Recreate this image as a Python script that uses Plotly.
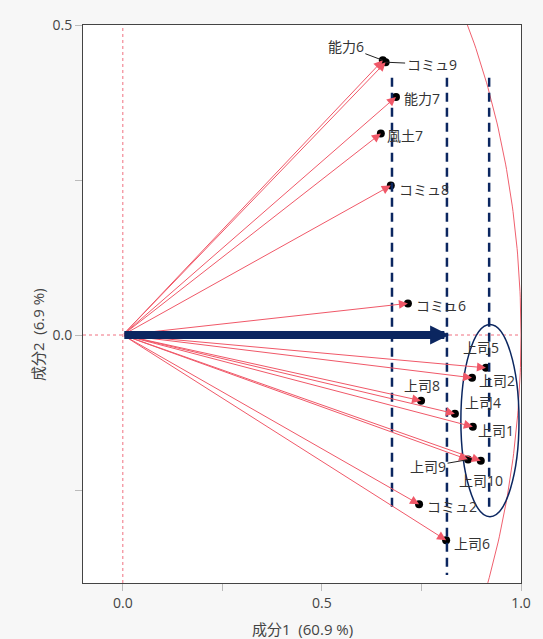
import numpy as np
import plotly.graph_objects as go

# ---- data ----
names = ["能力6", "コミュ9", "能力7", "風土7", "コミュ8", "コミュ6", "上司5", "上司2",
         "上司8", "上司4", "上司1", "上司9", "上司10", "コミュ2", "上司6"]
comp1 = [0.653, 0.660, 0.686, 0.648, 0.673, 0.716, 0.912, 0.877,
         0.749, 0.834, 0.879, 0.867, 0.899, 0.744, 0.812]
comp2 = [0.443, 0.440, 0.384, 0.325, 0.241, 0.051, -0.053, -0.069,
         -0.106, -0.127, -0.148, -0.201, -0.203, -0.273, -0.331]

# guide lines (dashed verticals): x, y_top, y_bottom
guide_x = [0.676, 0.814, 0.920]
guide_top = [0.415, 0.415, 0.415]
guide_bottom = [-0.278, -0.387, -0.283]
main_arrow_x = 0.82
ellipse_center = (0.922, -0.138)
ellipse_radius = (0.073, 0.155)

x_title = "成分1  (60.9 %)"
y_title = "成分2  (6.9 %)"

# ---- label placement (pixels) ----
# name: (xanchor, xshift, yshift)
label_pos = {
    "能力7": ("left", 6, -2), "風土7": ("left", 4, -2), "コミュ8": ("left", 6, -4),
    "コミュ6": ("left", 6, -2), "上司5": ("center", -5, 20), "上司2": ("left", 5, -3),
    "上司8": ("center", 1, 15), "上司4": ("left", 8, 11), "上司1": ("left", 3, -4),
    "上司10": ("center", 0, -20), "コミュ2": ("left", 6, -2), "上司6": ("left", 6, -3),
}
# labels with leader lines: name -> (ax, ay) pixel offset of label centre
leader_pos = {"能力6": (-37, -14), "コミュ9": (46, 2), "上司9": (-40, 7)}

FONT = "Open Sans, Noto Sans CJK JP, sans-serif"
LINE_RED = "#f05868"
NAVY = "#0b2660"

fig = go.Figure()

# unit circle
th = np.linspace(0, 2 * np.pi, 721)
fig.add_trace(go.Scatter(x=np.cos(th), y=np.sin(th), mode="lines",
                         line=dict(color="#f0606e", width=1), hoverinfo="skip",
                         showlegend=False))

# points
fig.add_trace(go.Scatter(x=comp1, y=comp2, mode="markers",
                         marker=dict(color="black", size=8),
                         showlegend=False, hovertext=names))

shapes = []
# zero lines
shapes.append(dict(type="line", xref="x", yref="paper", x0=0, x1=0, y0=0, y1=1,
                   line=dict(color="#f07080", width=1, dash="dot"), layer="below"))
shapes.append(dict(type="line", xref="paper", yref="y", x0=0, x1=1, y0=0, y1=0,
                   line=dict(color="#f07080", width=1, dash="dot"), layer="below"))
for gx, gt, gb in zip(guide_x, guide_top, guide_bottom):
    shapes.append(dict(type="line", x0=gx, x1=gx, y0=gt, y1=gb,
                       line=dict(color=NAVY, width=2.5, dash="9px,6px")))
cx, cy = ellipse_center
rx, ry = ellipse_radius
shapes.append(dict(type="circle", x0=cx - rx, x1=cx + rx, y0=cy - ry, y1=cy + ry,
                   line=dict(color=NAVY, width=1.5)))

annotations = []
# loading arrows
for n, x, y in zip(names, comp1, comp2):
    annotations.append(dict(x=x, y=y, ax=0, ay=0, axref="x", ayref="y", xref="x", yref="y",
                            text="", showarrow=True, arrowhead=2, arrowsize=1.8,
                            arrowwidth=1, arrowcolor=LINE_RED))
# main navy arrow
annotations.append(dict(x=main_arrow_x, y=0, ax=0, ay=0, axref="x", ayref="y",
                        text="", showarrow=True, arrowhead=2, arrowsize=0.48,
                        arrowwidth=8, arrowcolor=NAVY))
# labels
LFONT = dict(family=FONT, size=14, color="#333333")
for n, x, y in zip(names, comp1, comp2):
    if n in label_pos:
        xa, xs, ys = label_pos[n]
        annotations.append(dict(x=x, y=y, text=n, showarrow=False, xanchor=xa,
                                yanchor="middle", xshift=xs, yshift=ys, font=LFONT))
    elif n in leader_pos:
        ax, ay = leader_pos[n]
        annotations.append(dict(x=x, y=y, text=n, showarrow=True, arrowhead=0,
                                arrowwidth=1, arrowcolor="#222222", ax=ax, ay=ay,
                                font=LFONT))

# axis titles
annotations.append(dict(xref="paper", yref="paper", x=0.5, y=0, yshift=-46,
                        text=x_title, showarrow=False, xanchor="center", yanchor="middle",
                        font=dict(family=FONT, size=15, color="#444444")))
annotations.append(dict(xref="paper", yref="y", x=0, y=0, xshift=-45,
                        text=y_title, showarrow=False, textangle=-90,
                        xanchor="center", yanchor="middle",
                        font=dict(family=FONT, size=15, color="#444444")))

fig.update_layout(
    width=543, height=639,
    margin=dict(l=83, r=22, t=25, b=56),
    paper_bgcolor="#f7f7f7", plot_bgcolor="white",
    font=dict(family=FONT, size=14, color="#444444"),
    shapes=shapes, annotations=annotations,
    xaxis=dict(range=[-0.1, 1.0], tickvals=[0, 0.5, 1.0], ticktext=["0.0", "0.5", "1.0"],
               showgrid=False, zeroline=False, showline=True, linecolor="#444444",
               linewidth=1, mirror=True, ticks="outside", ticklen=7, tickcolor="#bbbbbb",
               minor=dict(tickvals=[0.25, 0.75], ticks="outside", ticklen=7,
                          tickcolor="#bbbbbb")),
    yaxis=dict(range=[-0.4, 0.5], tickvals=[0, 0.5], ticktext=["0.0", "0.5"],
               showgrid=False, zeroline=False, showline=True, linecolor="#444444",
               linewidth=1, mirror=True, ticks="outside", ticklen=7, tickcolor="#bbbbbb",
               minor=dict(tickvals=[-0.25, 0.25], ticks="outside", ticklen=7,
                          tickcolor="#bbbbbb")),
)

fig.write_html("out.html", config={"displayModeBar": False},
               post_script="document.body.style.margin='0';document.body.style.overflow='hidden';")
